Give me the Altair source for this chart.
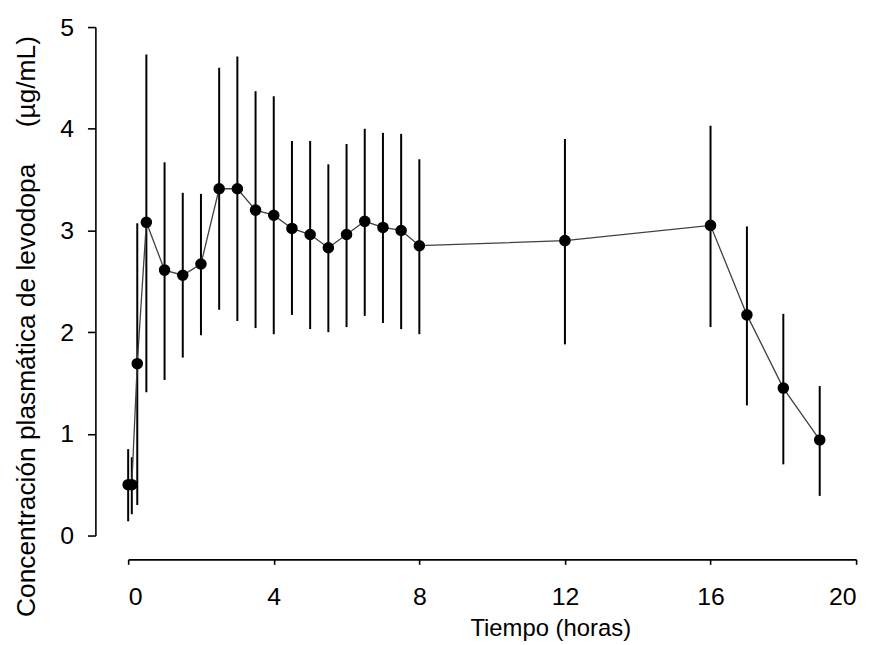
import altair as alt
import pandas as pd

tiempo = [0, 0.1, 0.25, 0.5, 1, 1.5, 2, 2.5, 3, 3.5, 4, 4.5, 5, 5.5, 6, 6.5, 7, 7.5, 8, 12, 16, 17, 18, 19]
media = [0.50, 0.50, 1.69, 3.08, 2.61, 2.56, 2.67, 3.41, 3.41, 3.20, 3.15, 3.02, 2.96, 2.83, 2.96, 3.09, 3.03, 3.00, 2.85, 2.90, 3.05, 2.17, 1.45, 0.94]
inferior = [0.14, 0.21, 0.30, 1.41, 1.53, 1.75, 1.97, 2.22, 2.11, 2.04, 1.98, 2.17, 2.03, 2.00, 2.05, 2.16, 2.09, 2.03, 1.98, 1.88, 2.05, 1.28, 0.70, 0.39]
superior = [0.85, 0.77, 3.07, 4.73, 3.67, 3.37, 3.36, 4.60, 4.71, 4.37, 4.32, 3.88, 3.88, 3.65, 3.85, 4.00, 3.96, 3.95, 3.70, 3.90, 4.03, 3.04, 2.18, 1.47]

df = pd.DataFrame({"t": tiempo, "m": media, "lo": inferior, "hi": superior})

NB = "\u00a0"
y_title = "Concentración plasmática de levodopa" + NB * 5 + "(µg/mL)"

x = alt.X("t:Q", scale=alt.Scale(domain=[0, 20], nice=False, zero=False),
          axis=alt.Axis(values=[0, 4, 8, 12, 16, 20], format="d", title="Tiempo (horas)",
                        offset=24, labelPadding=20, titleX=425, titleY=77,
                        titleAlign="center", titleBaseline="alphabetic"))
y = alt.Y("m:Q", scale=alt.Scale(domain=[0, 5], nice=False),
          axis=alt.Axis(values=[0, 1, 2, 3, 4, 5], format="d",
                        title=y_title,
                        offset=33, tickSize=8, labelPadding=14,
                        titleX=-61, titleY=301, titleAngle=270,
                        titleAlign="center", titleBaseline="alphabetic"))

bars = alt.Chart(df).mark_rule(color="black", strokeWidth=2).encode(
    x="t:Q", y="lo:Q", y2="hi:Q")
line = alt.Chart(df).mark_line(color="#404040", strokeWidth=1.3).encode(x=x, y=y)
dots = alt.Chart(df).mark_circle(color="black", opacity=1, size=135).encode(x="t:Q", y="m:Q")

chart = alt.layer(bars, line, dots).properties(
    width=733, height=512,
    autosize=alt.AutoSizeParams(type="none"),
    padding={"left": 121, "top": 17, "right": 16, "bottom": 107},
).configure_view(stroke=None).configure_axis(
    grid=False, domainColor="black", domainWidth=1.6, tickColor="black",
    tickWidth=1.6, labelFont="Liberation Sans", labelFontSize=25,
    labelColor="black", titleFont="Liberation Sans", titleFontSize=24,
    titleColor="black", titleFontWeight="normal",
).configure_axisY(titleFontSize=26.5)

chart.save("out.html", embed_options={"renderer": "svg", "actions": False})
